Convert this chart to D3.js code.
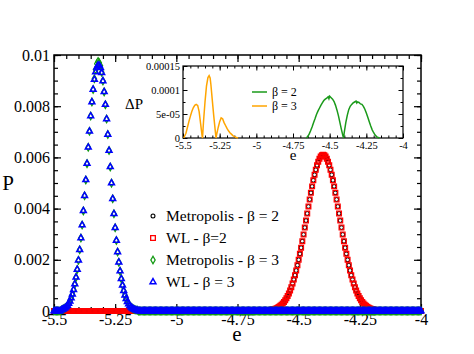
<!DOCTYPE html>
<html>
<head>
<meta charset="utf-8">
<script src="https://cdn.jsdelivr.net/npm/d3@7"></script>
<style>
body { margin: 0; background: #fff; }
text { font-family: "Liberation Serif", "Times New Roman", serif; fill: #000; }
</style>
</head>
<body>
<svg id="chart" width="474" height="354" font-family="Liberation Serif"></svg>
<script>
// energy bins of the histograms
const eMin = -5.5, eMax = -4.0, eStep = 0.005;

// main panel, P in units of 1e-3, listed from the first non-zero bin (zero elsewhere)
const beta3Start = -5.47;
const metro3 = [0.041, 0.059, 0.083, 0.115, 0.158, 0.215, 0.288, 0.382, 0.501, 0.649, 0.830, 1.050, 1.313, 1.621, 1.981, 2.390,
  2.850, 3.358, 3.911, 4.502, 5.121, 5.756, 6.394, 7.019, 7.616, 8.166, 8.652, 9.070, 9.420, 9.660, 9.750, 9.700, 9.580, 9.330,
  8.985, 8.560, 8.060, 7.499, 6.896, 6.267, 5.628, 4.995, 4.381, 3.797, 3.252, 2.754, 2.304, 1.905, 1.556, 1.256, 1.003, 0.791,
  0.616, 0.475, 0.361, 0.272, 0.202, 0.148, 0.108, 0.077, 0.055, 0.038, 0.027];
const wl3 = [0.041, 0.059, 0.083, 0.115, 0.158, 0.215, 0.288, 0.382, 0.501, 0.649, 0.830, 1.050, 1.313, 1.621, 1.981, 2.390,
  2.850, 3.358, 3.911, 4.502, 5.121, 5.756, 6.394, 7.019, 7.616, 8.166, 8.652, 9.040, 9.330, 9.520, 9.600, 9.590, 9.500, 9.300,
  8.985, 8.560, 8.060, 7.499, 6.896, 6.267, 5.628, 4.995, 4.381, 3.797, 3.252, 2.754, 2.304, 1.905, 1.556, 1.256, 1.003, 0.791,
  0.616, 0.475, 0.361, 0.272, 0.202, 0.148, 0.108, 0.077, 0.055, 0.038, 0.027];

const beta2Start = -4.62;
const metro2 = [0.028, 0.035, 0.045, 0.057, 0.071, 0.088, 0.109, 0.135, 0.165, 0.201, 0.244, 0.294, 0.352, 0.420, 0.498, 0.587,
  0.687, 0.801, 0.929, 1.070, 1.227, 1.398, 1.585, 1.786, 2.003, 2.232, 2.475, 2.728, 2.991, 3.260, 3.534, 3.810, 4.085, 4.355,
  4.617, 4.868, 5.104, 5.322, 5.518, 5.690, 5.834, 5.949, 6.032, 6.083, 6.100, 6.083, 6.032, 5.949, 5.834, 5.690, 5.518, 5.322,
  5.104, 4.868, 4.617, 4.355, 4.085, 3.810, 3.534, 3.260, 2.991, 2.728, 2.475, 2.232, 2.003, 1.786, 1.585, 1.398, 1.227, 1.070,
  0.929, 0.801, 0.687, 0.587, 0.498, 0.420, 0.352, 0.294, 0.244, 0.201, 0.165, 0.135, 0.109, 0.088, 0.071, 0.057, 0.045, 0.035, 0.028];
const wl2 = [0.028, 0.035, 0.045, 0.057, 0.071, 0.088, 0.109, 0.135, 0.165, 0.201, 0.244, 0.294, 0.352, 0.420, 0.498, 0.587,
  0.687, 0.801, 0.929, 1.070, 1.227, 1.398, 1.585, 1.786, 2.003, 2.232, 2.475, 2.728, 2.991, 3.260, 3.534, 3.810, 4.085, 4.355,
  4.617, 4.868, 5.104, 5.322, 5.518, 5.690, 5.834, 5.949, 6.032, 6.083, 6.100, 6.083, 6.032, 5.949, 5.834, 5.690, 5.518, 5.322,
  5.104, 4.868, 4.617, 4.355, 4.085, 3.810, 3.534, 3.260, 2.991, 2.728, 2.475, 2.232, 2.003, 1.786, 1.585, 1.398, 1.227, 1.070,
  0.929, 0.801, 0.687, 0.587, 0.498, 0.420, 0.352, 0.294, 0.244, 0.201, 0.165, 0.135, 0.109, 0.088, 0.071, 0.057, 0.045, 0.035, 0.028];

// inset, ΔP in units of 1e-5
const dE3 = [-5.495, -5.48, -5.47, -5.46, -5.45, -5.44, -5.43, -5.42, -5.41, -5.40, -5.39, -5.38, -5.37, -5.367, -5.36, -5.35,
  -5.34, -5.33, -5.322, -5.315, -5.31, -5.30, -5.29, -5.28, -5.275, -5.27, -5.26, -5.25, -5.24, -5.23, -5.22, -5.21, -5.20,
  -5.19, -5.18, -5.17, -5.16, -5.15, -5.14, -5.125];
const dP3 = [0, 1.0, 2.2, 3.4, 4.5, 5.5, 6.3, 6.8, 7.0, 6.8, 5.5, 3.0, 0.5, 0, 3.5, 7.5,
  10.8, 12.6, 13.0, 12.5, 11.2, 7.8, 4.5, 1.5, 0, 0.8, 2.2, 3.4, 4.2, 4.0, 3.2, 2.6, 2.0,
  1.5, 1.1, 0.8, 0.5, 0.3, 0.15, 0];
const dE2 = [-4.66, -4.65, -4.64, -4.63, -4.62, -4.61, -4.60, -4.59, -4.58, -4.57, -4.56, -4.55, -4.54, -4.53, -4.52, -4.51,
  -4.505, -4.50, -4.49, -4.48, -4.47, -4.46, -4.45, -4.44, -4.43, -4.42, -4.41, -4.405, -4.40, -4.39, -4.38, -4.37, -4.36,
  -4.35, -4.34, -4.33, -4.32, -4.315, -4.31, -4.30, -4.29, -4.28, -4.27, -4.26, -4.25, -4.24, -4.23, -4.22, -4.21, -4.20,
  -4.19, -4.18, -4.17, -4.16];
const dP2 = [0, 0.3, 0.8, 1.5, 2.3, 3.2, 4.0, 4.9, 5.6, 6.2, 6.8, 7.3, 7.8, 8.1, 8.3, 8.6,
  8.2, 8.7, 8.4, 8.1, 7.6, 6.8, 5.8, 4.6, 3.2, 1.8, 0.5, 0, 1.3, 3.2, 4.7, 5.9, 6.6,
  7.0, 7.3, 7.5, 7.7, 7.3, 7.5, 7.4, 7.1, 7.0, 6.6, 6.0, 5.2, 4.3, 3.4, 2.5, 1.7, 1.1,
  0.6, 0.3, 0.1, 0];

const xTicks = [-5.5, -5.25, -5, -4.75, -4.5, -4.25, -4];
const xTickLabels = ["-5.5", "-5.25", "-5", "-4.75", "-4.5", "-4.25", "-4"];
const yTicks = [0, 2, 4, 6, 8, 10];
const yTickLabels = ["0", "0.002", "0.004", "0.006", "0.008", "0.01"];
const insetYTicks = [0, 5, 10, 15];
const insetYTickLabels = ["0", "5e-05", "0.0001", "0.00015"];

const legendMain = ["Metropolis - \u03b2 = 2", "WL - \u03b2=2", "Metropolis - \u03b2 = 3", "WL - \u03b2 = 3"];
const legendInset = ["\u03b2 = 2", "\u03b2 = 3"];

const serif = '"Liberation Serif", "Times New Roman", serif';
const svg = d3.select('#chart');

const x = d3.scaleLinear().domain([eMin, eMax]).range([54, 421]);
const y = d3.scaleLinear().domain([0, 10]).range([311, 55]);
const xi = d3.scaleLinear().domain([eMin, eMax]).range([183, 403]);
const yi = d3.scaleLinear().domain([0, 15]).range([138, 66]);

const nBins = Math.round((eMax - eMin) / eStep) + 1;
function series(start, vals) {
    const i0 = Math.round((start - eMin) / eStep);
    return d3.range(nBins).map(i => ({
        e: eMin + i * eStep,
        p: (i >= i0 && i < i0 + vals.length) ? vals[i - i0] : 0
    }));
}

function drawFrame(xs, ys, o) {
    const g = svg.append('g');
    const [x0, x1] = xs.range();
    const [y0, y1] = ys.range();
    const xMinor = d3.range(eMin, eMax + 1e-9, 0.05);
    const yMinor = d3.range(ys.domain()[0], ys.domain()[1] + 1e-9, o.yMinorStep);

    const put = (axis, tx, ty) => {
        const a = g.append('g').attr('transform', `translate(${tx},${ty})`).call(axis);
        a.attr('font-family', serif).attr('font-size', o.fs);
        a.select('.domain').remove();
        a.selectAll('line').attr('stroke', '#000').attr('stroke-width', o.tw);
        a.selectAll('text').attr('fill', '#000')
            .style('font-family', serif).style('font-size', o.fs + 'px');
        return a;
    };
    // minor ticks on all four sides
    put(d3.axisBottom(xs).tickValues(xMinor).tickSize(-o.minor).tickFormat(''), 0, y0);
    put(d3.axisTop(xs).tickValues(xMinor).tickSize(-o.minor).tickFormat(''), 0, y1);
    put(d3.axisLeft(ys).tickValues(yMinor).tickSize(-o.minor).tickFormat(''), x0, 0);
    put(d3.axisRight(ys).tickValues(yMinor).tickSize(-o.minor).tickFormat(''), x1, 0);
    // major ticks with labels
    put(d3.axisBottom(xs).tickValues(xTicks).tickSize(-o.major).tickPadding(o.xpad)
        .tickFormat((d, i) => xTickLabels[i]), 0, y0);
    put(d3.axisTop(xs).tickValues(xTicks).tickSize(-o.major).tickFormat(''), 0, y1);
    put(d3.axisLeft(ys).tickValues(o.yTicks).tickSize(-o.major).tickPadding(o.ypad)
        .tickFormat((d, i) => o.yLabels[i]), x0, 0);
    put(d3.axisRight(ys).tickValues(o.yTicks).tickSize(-o.major).tickFormat(''), x1, 0);

    g.append('rect')
        .attr('x', x0).attr('y', y1)
        .attr('width', x1 - x0).attr('height', y0 - y1)
        .attr('fill', 'none').attr('stroke', '#000').attr('stroke-width', o.sw);
}

drawFrame(x, y, { yMinorStep: 0.5, minor: 4, major: 7, tw: 1.2, sw: 1.5, fs: 16, xpad: 3, ypad: 4,
    yTicks: yTicks, yLabels: yTickLabels });

// markers: circles under the open squares, diamonds under the triangles
const sets = {
    metro2: { data: series(beta2Start, metro2), type: d3.symbolCircle, size: 12, color: '#000000', sw: 1.1 },
    wl2: { data: series(beta2Start, wl2), type: d3.symbolSquare, size: 22, color: '#ff0000', sw: 1.3 },
    metro3: { data: series(beta3Start, metro3), type: d3.symbolDiamond, size: 16, color: '#119911', sw: 1.3 },
    wl3: { data: series(beta3Start, wl3), type: d3.symbolTriangle, size: 15, color: '#0000ff', sw: 1.5 }
};
const drawOrder = ['metro2', 'wl2', 'metro3', 'wl3'];
const markers = svg.append('g');
drawOrder.forEach(k => {
    const s = sets[k];
    markers.append('g').selectAll('path')
        .data(s.data)
        .join('path')
        .attr('transform', d => `translate(${x(d.e)},${y(d.p)})`)
        .attr('d', d3.symbol().type(s.type).size(s.size))
        .attr('fill', 'none')
        .attr('stroke', s.color)
        .attr('stroke-width', s.sw);
});

// main legend
drawOrder.forEach((k, i) => {
    const s = sets[k];
    const ly = 216 + i * 22;
    svg.append('path')
        .attr('transform', `translate(153,${ly})`)
        .attr('d', d3.symbol().type(s.type).size(s.size))
        .attr('fill', 'none').attr('stroke', s.color).attr('stroke-width', s.sw);
    svg.append('text')
        .attr('x', 166).attr('y', ly).attr('dy', '0.35em')
        .style('font-size', '15.5px')
        .text(legendMain[i]);
});

svg.append('text').attr('x', 8).attr('y', 190).attr('text-anchor', 'middle')
    .style('font-size', '21px').text('P');
svg.append('text').attr('x', 237).attr('y', 341).attr('text-anchor', 'middle')
    .style('font-size', '21px').text('e');

// inset
svg.append('rect').attr('x', 183).attr('y', 66).attr('width', 220).attr('height', 72).attr('fill', '#fff');
drawFrame(xi, yi, { yMinorStep: 2.5, minor: 2.5, major: 4.5, tw: 1, sw: 1.2, fs: 10.5, xpad: 4, ypad: 3,
    yTicks: insetYTicks, yLabels: insetYTickLabels });

const line = d3.line().x(d => xi(d[0])).y(d => yi(d[1]));
const lines = [
    { e: dE2, p: dP2, color: '#1a9a1a' },
    { e: dE3, p: dP3, color: '#ffa500' }
];
lines.forEach((l, i) => {
    svg.append('path')
        .datum(l.e.map((e, k) => [e, l.p[k]]))
        .attr('d', line)
        .attr('fill', 'none').attr('stroke', l.color).attr('stroke-width', 1.5);
    const ly = 92 + i * 14;
    svg.append('line').attr('x1', 252).attr('x2', 267).attr('y1', ly).attr('y2', ly)
        .attr('stroke', l.color).attr('stroke-width', 1.5);
    svg.append('text').attr('x', 272).attr('y', ly).attr('dy', '0.35em')
        .style('font-size', '12px').text(legendInset[i]);
});

svg.append('text').attr('x', 134).attr('y', 109).attr('text-anchor', 'middle')
    .style('font-size', '15px').text('\u0394P');
svg.append('text').attr('x', 293).attr('y', 160).attr('text-anchor', 'middle')
    .style('font-size', '15px').text('e');
</script>
</body>
</html>
